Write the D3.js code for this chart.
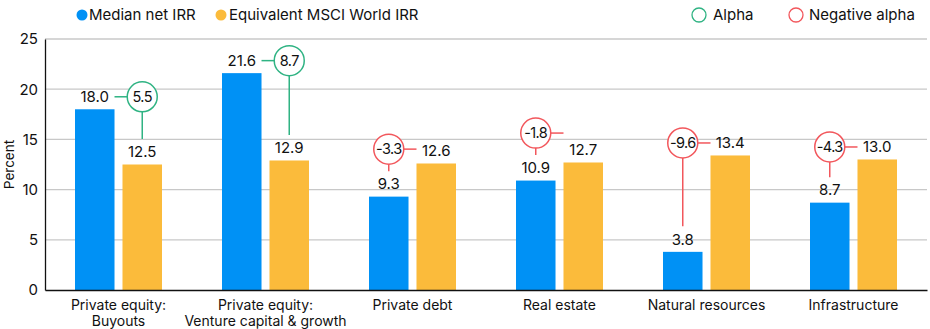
<!DOCTYPE html>
<html>
<head>
<meta charset="utf-8">
<script src="https://cdn.jsdelivr.net/npm/d3@7"></script>
<style>
  body { margin: 0; background: #fff; }
  svg { display: block; font-family: Inter, "Noto Sans", sans-serif; }
</style>
</head>
<body>
<div class="vis"></div>
<script>
const categories = [['Private equity:', 'Buyouts'], ['Private equity:', 'Venture capital & growth'], ['Private debt'], ['Real estate'], ['Natural resources'], ['Infrastructure']]
const medianIRR = [18.0, 21.6, 9.3, 10.9, 3.8, 8.7]
const msciIRR = [12.5, 12.9, 12.6, 12.7, 13.4, 13.0]
const alpha = [5.5, 8.7, -3.3, -1.8, -9.6, -4.3]
const yTicks = [0, 5, 10, 15, 20, 25]
const seriesNames = ['Median net IRR', 'Equivalent MSCI World IRR']

const w = 930
const h = 329
const padL = 45, padR = 927, padT = 39, padB = 290

const blue = '#0091f5'
const gold = '#fbbb3b'
const green = '#2fb383'
const red = '#f2575c'

const svg = d3.select('.vis').append('svg')
    .attr('width', w)
    .attr('height', h)

const keys = categories.map((c, i) => i)
const x0 = d3.scaleBand().domain(keys).range([padL, padR])
const groupW = 87
const x1 = d3.scaleBand().domain([0, 1]).range([(x0.bandwidth() - groupW) / 2, (x0.bandwidth() + groupW) / 2]).paddingInner(0.168)
const y = d3.scaleLinear().domain([0, 25]).range([padB, padT])

// grid
svg.append('g')
    .selectAll('line')
    .data(yTicks.filter(d => d > 0))
    .enter().append('line')
    .attr('x1', padL).attr('x2', padR)
    .attr('y1', d => y(d)).attr('y2', d => y(d))
    .attr('stroke', '#c8c8c8')
    .attr('stroke-width', 1.3)

// y axis
const yAxis = d3.axisLeft(y).tickValues(yTicks).tickSize(0).tickPadding(7)
const gy = svg.append('g')
    .attr('transform', 'translate(' + padL + ',0)')
    .call(yAxis)
gy.select('.domain').attr('stroke', '#111').attr('stroke-width', 1.3)
gy.selectAll('text').attr('font-size', 15).attr('fill', '#111').attr('font-family', 'Inter, sans-serif')

svg.append('text')
    .attr('transform', 'translate(14,' + ((padT + padB) / 2) + ') rotate(-90)')
    .attr('text-anchor', 'middle')
    .attr('font-size', 13.5)
    .attr('fill', '#111')
    .text('Percent')

// bars
const groups = svg.append('g').selectAll('g')
    .data(keys)
    .enter().append('g')
    .attr('transform', d => 'translate(' + x0(d) + ',0)')

const vals = [medianIRR, msciIRR]
const cols = [blue, gold]
groups.selectAll('rect')
    .data(i => [0, 1].map(s => ({ s: s, v: vals[s][i] })))
    .enter().append('rect')
    .attr('x', d => x1(d.s))
    .attr('width', x1.bandwidth())
    .attr('y', d => y(d.v))
    .attr('height', d => y(0) - y(d.v))
    .attr('fill', d => cols[d.s])

// x axis
const xAxis = d3.axisBottom(x0).tickSize(0).tickFormat('')
const gx = svg.append('g')
    .attr('transform', 'translate(0,' + padB + ')')
    .call(xAxis)
gx.select('.domain').attr('stroke', '#111').attr('stroke-width', 1.5)

svg.append('g').selectAll('text')
    .data(keys)
    .enter().append('text')
    .attr('x', d => x0(d) + x0.bandwidth() / 2)
    .attr('y', 310)
    .attr('text-anchor', 'middle')
    .attr('font-size', 14)
    .attr('fill', '#111')
    .each(function(d) {
        categories[d].forEach((t, k) => {
            d3.select(this).append('tspan')
                .attr('x', x0(d) + x0.bandwidth() / 2)
                .attr('dy', k === 0 ? 0 : 16)
                .text(t)
        })
    })

// value labels + alpha bubbles
const labelY = v => y(v) - 12.5
const r = 15
keys.forEach(i => {
    const g = svg.append('g')
    const bx = x0(i) + x1(0) + x1.bandwidth() / 2
    const gxc = x0(i) + x1(1) + x1.bandwidth() / 2
    const by = labelY(medianIRR[i])
    const gyv = labelY(msciIRR[i])
    g.append('text').attr('x', bx).attr('y', by).attr('dy', '0.35em')
        .attr('text-anchor', 'middle').attr('font-size', 15).attr('fill', '#111')
        .text(d3.format('.1f')(medianIRR[i]))
    g.append('text').attr('x', gxc).attr('y', gyv).attr('dy', '0.35em')
        .attr('text-anchor', 'middle').attr('font-size', 15).attr('fill', '#111')
        .text(d3.format('.1f')(msciIRR[i]))

    const a = alpha[i]
    let cx, cy, col, lines
    if (a >= 0) {
        col = green
        cx = gxc
        cy = by
        lines = [
            [x0(i) + x1(0) + x1.bandwidth(), cy, cx - r, cy],
            [cx, cy + r, cx, gyv - 13]
        ]
    } else {
        col = red
        cx = bx
        cy = Math.min(gyv, by - 35)
        lines = [
            [cx + r, cy, x0(i) + x1(1), cy],
            [cx, cy + r, cx, by - 13]
        ]
    }
    lines.forEach(l => {
        g.append('line').attr('x1', l[0]).attr('y1', l[1]).attr('x2', l[2]).attr('y2', l[3])
            .attr('stroke', col).attr('stroke-width', 1.5)
    })
    g.append('circle').attr('cx', cx).attr('cy', cy).attr('r', r)
        .attr('fill', '#fff').attr('stroke', col).attr('stroke-width', 1.5)
    g.append('text').attr('x', cx).attr('y', cy).attr('dy', '0.35em')
        .attr('text-anchor', 'middle').attr('font-size', 14.5).attr('fill', '#111')
        .attr('letter-spacing', -0.6)
        .text(a < 0 ? '-' + Math.abs(a).toFixed(1) : a.toFixed(1))
})

// legend
const legend = svg.append('g')
const ly = 15
legend.append('circle').attr('cx', 82).attr('cy', ly).attr('r', 5.5).attr('fill', blue)
legend.append('text').attr('x', 89).attr('y', ly).attr('dy', '0.35em').attr('font-size', 15).attr('fill', '#111').text(seriesNames[0])
legend.append('circle').attr('cx', 221).attr('cy', ly).attr('r', 5.5).attr('fill', gold)
legend.append('text').attr('x', 229).attr('y', ly).attr('dy', '0.35em').attr('font-size', 15).attr('fill', '#111').text(seriesNames[1])
legend.append('circle').attr('cx', 699).attr('cy', ly).attr('r', 7).attr('fill', 'none').attr('stroke', green).attr('stroke-width', 1.3)
legend.append('text').attr('x', 713).attr('y', ly).attr('dy', '0.35em').attr('font-size', 15).attr('fill', '#111').text('Alpha')
legend.append('circle').attr('cx', 796).attr('cy', ly).attr('r', 7).attr('fill', 'none').attr('stroke', red).attr('stroke-width', 1.3)
legend.append('text').attr('x', 809).attr('y', ly).attr('dy', '0.35em').attr('font-size', 15).attr('fill', '#111').text('Negative alpha')
</script>
</body>
</html>
